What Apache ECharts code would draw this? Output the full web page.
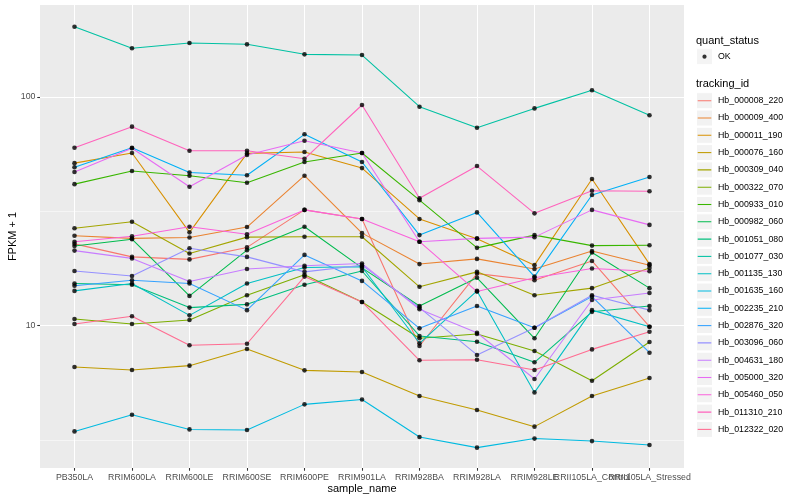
<!DOCTYPE html>
<html><head><meta charset="utf-8">
<script src="https://cdn.jsdelivr.net/npm/echarts@6/dist/echarts.min.js"></script>
<style>html,body{margin:0;padding:0;background:#fff}#c{width:800px;height:500px}</style>
</head><body><div id="c"></div><script>
// ---------- data ----------
const categories = ['PB350LA','RRIM600LA','RRIM600LE','RRIM600SE','RRIM600PE','RRIM901LA','RRIM928BA','RRIM928LA','RRIM928LE','RRII105LA_Control','RRII105LA_Stressed'];
const trackingIds = ['Hb_000008_220','Hb_000009_400','Hb_000011_190','Hb_000076_160','Hb_000309_040','Hb_000322_070','Hb_000933_010','Hb_000982_060','Hb_001051_080','Hb_001077_030','Hb_001135_130','Hb_001635_160','Hb_002235_210','Hb_002876_320','Hb_003096_060','Hb_004631_180','Hb_005000_320','Hb_005460_050','Hb_011310_210','Hb_012322_020'];
const colors = ['#F8766D','#EA8331','#D89000','#C09B00','#A3A500','#7CAE00','#39B600','#00BB4E','#00BF7D','#00C1A3','#00BFC4','#00BAE0','#00B0F6','#35A2FF','#9590FF','#C77CFF','#E76BF3','#FA62DB','#FF62BC','#FF6C91'];
const yTicks = [10, 100];
const yMinor = [3.16228, 31.6228];
const yRange = [2.387, 252.6];

const hb_000008_220 = [22.8, 20.0, 19.5, 22.0, 32.1, 29.3, 8.15, 16.9, 15.8, 19.2, 9.90];
const hb_000009_400 = [24.75, 24.1, 24.3, 27.0, 45.3, 25.4, 18.6, 19.6, 17.7, 21.2, 18.4];
const hb_000011_190 = [51.4, 56.9, 25.6, 56.7, 57.5, 48.9, 29.3, 24.0, 18.4, 43.8, 18.6];
const hb_000076_160 = [6.60, 6.40, 6.69, 7.91, 6.38, 6.28, 4.93, 4.28, 3.62, 4.93, 5.91];
const hb_000309_040 = [26.7, 28.5, 20.7, 24.4, 24.5, 24.5, 14.8, 17.2, 13.6, 14.6, 17.9];
const hb_000322_070 = [10.7, 10.17, 10.6, 13.6, 16.7, 12.7, 8.81, 9.20, 7.75, 5.75, 8.49];
const hb_000933_010 = [41.6, 47.5, 45.3, 42.2, 52.0, 56.9, 35.4, 21.9, 24.9, 22.4, 22.5];
const hb_000982_060 = [22.3, 23.9, 13.5, 21.4, 27.1, 17.9, 12.2, 16.2, 8.81, 20.9, 14.6];
const hb_001051_080 = [15.3, 15.1, 12.0, 12.4, 15.1, 17.35, 9.02, 8.51, 6.92, 11.5, 12.2];
const hb_001077_030 = [203, 163.3, 172.2, 170, 153.7, 152.6, 90.7, 73.4, 89.2, 107, 83.2];
const hb_001135_130 = [14.2, 15.3, 11.1, 15.3, 17.97, 18.1, 8.38, 14.2, 5.11, 11.7, 9.90];
const hb_001635_160 = [3.45, 4.08, 3.52, 3.50, 4.53, 4.76, 3.26, 2.93, 3.21, 3.13, 3.01];
const hb_002235_210 = [49.3, 60.0, 46.8, 45.5, 68.7, 52.0, 24.9, 31.3, 16.4, 37.3, 44.7];
const hb_002876_320 = [14.96, 15.8, 15.3, 11.7, 20.4, 15.7, 9.74, 12.2, 9.80, 13.4, 7.62];
const hb_003096_060 = [17.35, 16.5, 21.8, 20.0, 17.2, 18.4, 12.0, 7.45, 9.80, 13.6, 11.7];
const hb_004631_180 = [21.3, 19.7, 15.6, 17.7, 18.3, 18.7, 11.8, 9.32, 5.85, 12.95, 13.9];
const hb_005000_320 = [47.0, 59.7, 40.5, 55.8, 64.4, 56.9, 23.3, 24.1, 24.4, 32.1, 27.6];
const hb_005460_050 = [23.3, 24.6, 27.1, 25.1, 32.1, 29.3, 23.3, 14.1, 16.2, 17.8, 17.3];
const hb_011310_210 = [60.0, 74.2, 58.2, 58.2, 53.7, 92.3, 36.1, 49.9, 31.0, 38.9, 38.7];
const hb_012322_020 = [10.17, 11.0, 8.21, 8.34, 16.4, 12.7, 7.06, 7.10, 6.40, 7.88, 9.41];

const seriesValues = [hb_000008_220, hb_000009_400, hb_000011_190, hb_000076_160, hb_000309_040, hb_000322_070, hb_000933_010, hb_000982_060, hb_001051_080, hb_001077_030, hb_001135_130, hb_001635_160, hb_002235_210, hb_002876_320, hb_003096_060, hb_004631_180, hb_005000_320, hb_005460_050, hb_011310_210, hb_012322_020];

// ---------- layout ----------
const FONT = '"Liberation Sans", Arial, Helvetica, sans-serif';
const P = {left: 40, top: 5, width: 644, height: 463};
const lmin = Math.log10(yRange[0]), lmax = Math.log10(yRange[1]);
function yPos(v) { return P.top + P.height * (lmax - Math.log10(v)) / (lmax - lmin); }
const xPad = 0.6, nCat = categories.length;
const unit = P.width / (nCat - 1 + 2 * xPad);

function svgIcon(inner) {
  const svg = '<svg xmlns="http://www.w3.org/2000/svg" width="34" height="34" viewBox="0 0 17 17">' +
    '<rect x="0.5" y="0.5" width="16" height="16" fill="#F2F2F2" stroke="#FFFFFF" stroke-width="1"/>' + inner + '</svg>';
  return 'image://data:image/svg+xml;charset=utf-8,' + encodeURIComponent(svg);
}
const lineIcon = c => svgIcon('<line x1="1.7" y1="8.5" x2="15.3" y2="8.5" stroke="' + c + '" stroke-width="1.07"/>');
const dotIcon = svgIcon('<circle cx="8.5" cy="8.5" r="2.1" fill="#000"/>');

const hidden = {show: false};
const gridBase = {show: false, outerBoundsMode: 'none', containLabel: false};
const grids = [
  Object.assign({}, gridBase, {left: P.left, top: P.top, width: P.width, height: P.height, show: true, backgroundColor: '#EBEBEB', borderWidth: 0}),
  Object.assign({}, gridBase, {left: P.left, top: yPos(yTicks[1]), width: P.width, height: yPos(yTicks[0]) - yPos(yTicks[1])}),
  Object.assign({}, gridBase, {left: P.left, top: yPos(yMinor[1]), width: P.width, height: yPos(yMinor[0]) - yPos(yMinor[1])}),
  Object.assign({}, gridBase, {left: P.left + unit * xPad, top: P.top, width: unit * (nCat - 1), height: P.height})
];

const labelStyle = {fontSize: 8.8, color: '#4D4D4D', fontFamily: FONT};
const tickStyle = {show: true, length: 2.75, lineStyle: {color: '#333333', width: 1.07}};

const xAxes = [
  {gridIndex: 0, type: 'value', min: 0, max: 1, show: false},
  {gridIndex: 1, type: 'value', min: 0, max: 1, show: false},
  {gridIndex: 2, type: 'value', min: 0, max: 1, show: false},
  {gridIndex: 3, type: 'category', data: categories, boundaryGap: false,
   axisLine: {show: false}, axisTick: Object.assign({interval: 0}, tickStyle),
   axisLabel: Object.assign({interval: 0, margin: 5.5, hideOverlap: false}, labelStyle),
   splitLine: {show: true, interval: 0, lineStyle: {color: '#FFFFFF', width: 1.07}},
   name: 'sample_name', nameLocation: 'middle', nameGap: 15, nameMoveOverlap: false,
   nameTextStyle: {fontSize: 11, color: '#000', fontFamily: FONT}}
];
const yAxes = [
  {gridIndex: 0, type: 'value', min: 0, max: 1, axisLine: hidden, axisTick: hidden, axisLabel: hidden, splitLine: hidden,
   name: 'FPKM + 1', nameLocation: 'middle', nameGap: 22, nameMoveOverlap: false,
   nameTextStyle: {fontSize: 11, color: '#000', fontFamily: FONT}},
  {gridIndex: 1, type: 'log', logBase: 10, min: yTicks[0], max: yTicks[1], axisLine: hidden, axisTick: tickStyle,
   axisLabel: Object.assign({margin: 4.5}, labelStyle),
   splitLine: {show: true, lineStyle: {color: '#FFFFFF', width: 1.07}}},
  {gridIndex: 2, type: 'log', logBase: 10, min: yMinor[0], max: yMinor[1], axisLine: hidden, axisTick: hidden, axisLabel: hidden,
   splitLine: {show: true, lineStyle: {color: '#FFFFFF', width: 0.53}}},
  {gridIndex: 3, type: 'log', logBase: 10, min: yRange[0], max: yRange[1], axisLine: hidden, axisTick: hidden, axisLabel: hidden, splitLine: hidden}
];

const series = trackingIds.map((id, i) => ({
  name: id, type: 'line', xAxisIndex: 3, yAxisIndex: 3,
  data: seriesValues[i].map((v, j) => [categories[j], v]),
  symbol: 'none', showSymbol: false,
  lineStyle: {color: colors[i], width: 1.07}, itemStyle: {color: colors[i]},
  emphasis: {disabled: true}, silent: true, z: 2
}));
const allPoints = [];
seriesValues.forEach(vals => vals.forEach((v, j) => allPoints.push([categories[j], v])));
series.push({name: 'OK', type: 'scatter', xAxisIndex: 3, yAxisIndex: 3, data: allPoints,
  symbol: 'circle', symbolSize: 4.6, itemStyle: {color: '#000'}, emphasis: {disabled: true}, silent: true, z: 3});

const option = {
  animation: false,
  backgroundColor: '#FFFFFF',
  textStyle: {fontFamily: FONT},
  title: [
    {text: 'quant_status', left: 696, top: 35, padding: 0, textStyle: {fontSize: 11, fontWeight: 'normal', color: '#000', fontFamily: FONT}},
    {text: 'tracking_id', left: 696, top: 78.5, padding: 0, textStyle: {fontSize: 11, fontWeight: 'normal', color: '#000', fontFamily: FONT}}
  ],
  legend: [
    {orient: 'vertical', left: 696, top: 48.2, padding: 0, itemWidth: 17, itemHeight: 17, itemGap: 0.3, selectedMode: false,
     textStyle: {fontSize: 8.8, color: '#000', fontFamily: FONT}, data: [{name: 'OK', icon: dotIcon}]},
    {orient: 'vertical', left: 696, top: 92.2, padding: 0, itemWidth: 17, itemHeight: 17, itemGap: 0.3, selectedMode: false,
     textStyle: {fontSize: 8.8, color: '#000', fontFamily: FONT},
     data: trackingIds.map((id, i) => ({name: id, icon: lineIcon(colors[i])}))}
  ],
  grid: grids, xAxis: xAxes, yAxis: yAxes, series: series
};
const chart = echarts.init(document.getElementById('c'), null, {renderer: 'canvas'});
chart.setOption(option);
</script></body></html>
